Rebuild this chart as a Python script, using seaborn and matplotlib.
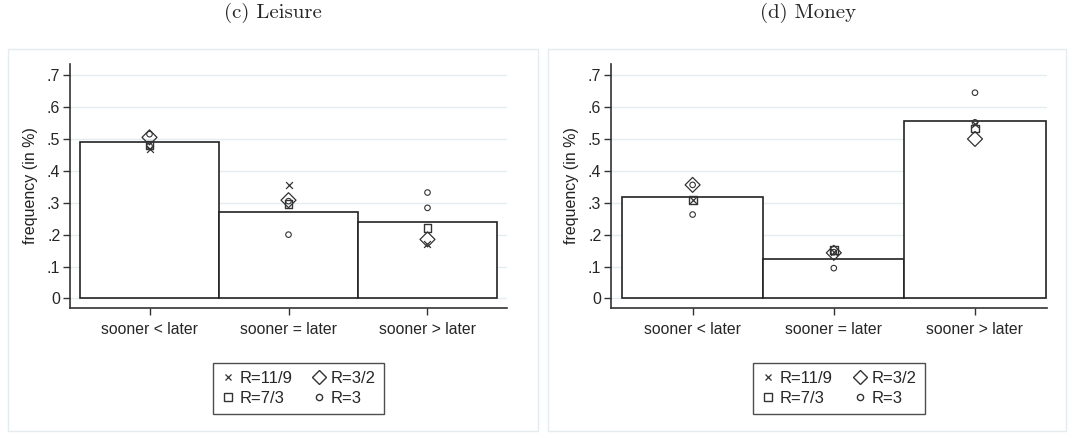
import matplotlib
matplotlib.use("Agg")
import matplotlib.pyplot as plt
from matplotlib.lines import Line2D
from matplotlib.patches import Rectangle
import seaborn as sns
import pandas as pd

# categories and tick labels
categories = ["sooner < later", "sooner = later", "sooner > later"]
ytick_vals = [0, 0.1, 0.2, 0.3, 0.4, 0.5, 0.6, 0.7]
ytick_labels = ["0", ".1", ".2", ".3", ".4", ".5", ".6", ".7"]
series_names = ["R=11/9", "R=7/3", "R=3/2", "R=3"]

# (c) Leisure
leisure_bars = [0.489, 0.272, 0.240]
leisure_r119 = [0.470, 0.357, 0.170]
leisure_r73 = [0.482, 0.296, 0.222]
leisure_r32 = [0.505, 0.308, 0.185]
leisure_r3 = [0.515, 0.200, 0.332]
leisure_r3b = [0.478, 0.305, 0.284]

# (d) Money
money_bars = [0.319, 0.125, 0.557]
money_r119 = [0.308, 0.145, 0.548]
money_r73 = [0.308, 0.153, 0.533]
money_r32 = [0.356, 0.143, 0.500]
money_r3 = [0.263, 0.095, 0.645]
money_r3b = [0.356, 0.145, 0.552]

sns.set_style("white")
plt.rcParams["font.family"] = ["Liberation Sans", "DejaVu Sans"]
plt.rcParams["axes.formatter.use_mathtext"] = False

fig = plt.figure(figsize=(10.7, 4.33), dpi=100)

W, H = 1070, 433
frame_col = "#e4ecef"
# light panel frames
for x0, x1 in [(8, 538), (548, 1066)]:
    fig.patches.append(Rectangle((x0 / W, 0.005), (x1 - x0) / W, 1 - 49 / H - 0.005,
                                 transform=fig.transFigure, fill=False,
                                 edgecolor=frame_col, linewidth=1))

panels = [
    ("(c) Leisure", 273, [70, 507], (-0.572, 2.572), leisure_bars,
     [leisure_r119, leisure_r73, leisure_r32, leisure_r3, leisure_r3b]),
    ("(d) Money", 808, [611, 1047], (-0.578, 2.51), money_bars,
     [money_r119, money_r73, money_r32, money_r3, money_r3b]),
]

styles = [
    dict(marker="x", s=24, hollow=False, lw=0.9),
    dict(marker="s", s=32, hollow=True, lw=1.0),
    dict(marker="D", s=58, hollow=True, lw=0.9),
    dict(marker="o", s=16, hollow=True, lw=0.8),
    dict(marker="o", s=16, hollow=True, lw=0.8),
]

for title, tx, (px0, px1), xlim, bars, series in panels:
    ax = fig.add_axes([px0 / W, 1 - 308 / H, (px1 - px0) / W, (308 - 64) / H])
    df = pd.DataFrame({"cat": categories, "val": bars})
    sns.barplot(data=df, x="cat", y="val", order=categories, width=1.0,
                color="white", edgecolor="#222222", linewidth=1.2, ax=ax,
                errorbar=None, zorder=2)
    for p in ax.patches:
        p.set_facecolor("white")
    for vals, st in zip(series, styles):
        n0 = len(ax.collections)
        sns.stripplot(x=categories, y=vals, order=categories, jitter=False,
                      marker=st["marker"], s=1, color="black", ax=ax, zorder=3)
        for coll in ax.collections[n0:]:
            coll.set_sizes([st["s"]])
            coll.set_linewidth(st["lw"])
            if st["hollow"]:
                coll.set_facecolor("none")
                coll.set_edgecolor("#333333")
            else:
                coll.set_color("#333333")
    ax.set_xlim(*xlim)
    ax.set_ylim(-0.03, 0.735)
    ax.set_yticks(ytick_vals)
    ax.set_yticklabels(ytick_labels, fontsize=11.5)
    ax.tick_params(axis="x", labelsize=11.3, length=5, width=1, color="#333333",
                   direction="out", bottom=True, pad=5)
    ax.tick_params(axis="y", length=5, width=1, color="#333333",
                   direction="out", left=True, pad=2)
    ax.set_xlabel("")
    ax.set_ylabel("frequency (in %)", fontsize=11.5, color="#222222", labelpad=6)
    ax.yaxis.grid(True, color="#e3edf0", linewidth=1)
    ax.set_axisbelow(True)
    for s in ["top", "right"]:
        ax.spines[s].set_visible(False)
    for s in ["left", "bottom"]:
        ax.spines[s].set_color("#333333")
        ax.spines[s].set_linewidth(1.2)

    handles = [
        Line2D([], [], linestyle="none", marker="x", markersize=5, color="#333333",
               markeredgewidth=0.9),
        Line2D([], [], linestyle="none", marker="s", markersize=6,
               markerfacecolor="none", markeredgecolor="#333333"),
        Line2D([], [], linestyle="none", marker="D", markersize=7,
               markerfacecolor="none", markeredgecolor="#333333"),
        Line2D([], [], linestyle="none", marker="o", markersize=4.5,
               markerfacecolor="none", markeredgecolor="#333333"),
    ]
    leg = ax.legend(handles, series_names, loc="upper center",
                    bbox_to_anchor=(0.523, -0.19), ncol=2, fontsize=12,
                    frameon=True, fancybox=False, handlelength=0.8,
                    handletextpad=0.3, columnspacing=1.2, labelspacing=0.3,
                    borderpad=0.5)
    leg.get_frame().set_edgecolor("#222222")
    leg.get_frame().set_linewidth(1.0)

    fig.text(tx / W, 1 - 13 / H, title, ha="center", va="center",
             fontsize=15, family=["cmr10", "DejaVu Serif"])

fig.savefig("out.png", dpi=100)
